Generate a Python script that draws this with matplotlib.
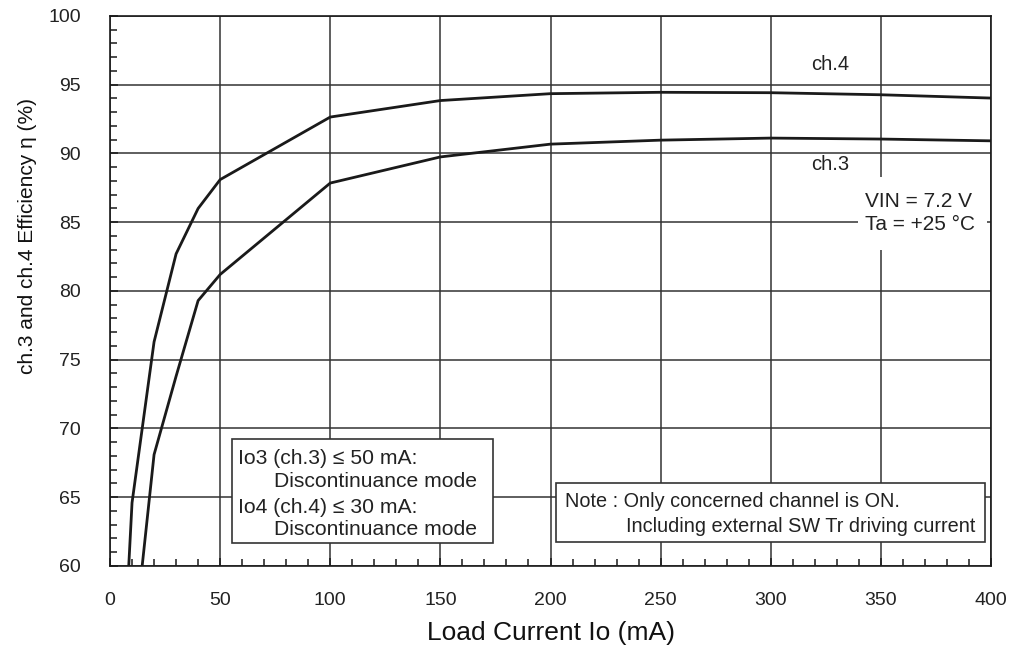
import matplotlib
matplotlib.use("Agg")
import matplotlib.pyplot as plt
from matplotlib.patches import Rectangle
from matplotlib.ticker import MultipleLocator

plt.rcParams['font.family'] = ['Liberation Sans', 'DejaVu Sans']

# data
load_ch4 = [8.5, 10, 20, 30, 40, 50, 100, 150, 200, 250, 300, 350, 400]
eff_ch4 = [60.0, 64.6, 76.3, 82.7, 86.0, 88.1, 92.65, 93.85, 94.35, 94.45, 94.42, 94.27, 94.03]
load_ch3 = [14.6, 20, 30, 40, 50, 100, 150, 200, 250, 300, 350, 400]
eff_ch3 = [60.0, 68.1, 73.8, 79.3, 81.2, 87.85, 89.75, 90.68, 90.97, 91.12, 91.05, 90.92]

x_ticks = [0, 50, 100, 150, 200, 250, 300, 350, 400]
y_ticks = [60, 65, 70, 75, 80, 85, 90, 95, 100]

ink = '#1a1a1a'
txt = '#222222'

fig = plt.figure(figsize=(10.13, 6.47), dpi=100)
ax = fig.add_axes([0.1086, 0.1252, 0.8697, 0.8501])

ax.plot(load_ch4, eff_ch4, color=ink, lw=2.0, zorder=4)
ax.plot(load_ch3, eff_ch3, color=ink, lw=2.0, zorder=4)

ax.set_xlim(0, 400)
ax.set_ylim(60, 100)
ax.set_xticks(x_ticks)
ax.set_yticks(y_ticks)
ax.xaxis.set_minor_locator(MultipleLocator(10))
ax.yaxis.set_minor_locator(MultipleLocator(1))
ax.grid(True, which='major', color='#333333', lw=1.1, zorder=1)
ax.tick_params(which='both', direction='in', color=ink, width=1.1, labelsize=14, labelcolor=txt)
ax.tick_params(which='major', length=6)
ax.tick_params(which='minor', length=5)
ax.tick_params(axis='x', pad=19)
ax.tick_params(axis='y', pad=21)
for s in ax.spines.values():
    s.set_color(ink)
    s.set_linewidth(1.2)

ax.set_xlabel('Load Current Io (mA)', fontsize=19, color='#111111')
ax.set_ylabel('ch.3 and ch.4 Efficiency η (%)', fontsize=15, color='#111111')
ax.xaxis.set_label_coords(0.5, -0.1)
ax.yaxis.set_label_coords(-0.083, 0.6)

# curve labels
ax.text(327, 96.5, 'ch.4', fontsize=14.5, color=txt, ha='center', va='center')
ax.text(327, 89.2, 'ch.3', fontsize=14.5, color=txt, ha='center', va='center')

# condition text with white background
ax.add_patch(Rectangle((0.849, 0.5745), 0.1465, 0.1325, transform=ax.transAxes,
                       facecolor='white', edgecolor='none', zorder=3))
ax.text(0.857, 0.642, 'VIN = 7.2 V\nTa = +25 °C', transform=ax.transAxes,
        fontsize=15, color=txt, ha='left', va='center', linespacing=1.25, zorder=5)

# mode box
ax.add_patch(Rectangle((0.1385, 0.0418), 0.2962, 0.1891, transform=ax.transAxes,
                       facecolor='white', edgecolor='#333333', lw=1.2, zorder=3))
ax.text(0.145, 0.196, 'Io3 (ch.3) ≤ 50 mA:', transform=ax.transAxes,
        fontsize=15.2, color=txt, ha='left', va='center', zorder=5)
ax.text(0.1864, 0.1533, 'Discontinuance mode', transform=ax.transAxes,
        fontsize=15.2, color=txt, ha='left', va='center', zorder=5)
ax.text(0.145, 0.1055, 'Io4 (ch.4) ≤ 30 mA:', transform=ax.transAxes,
        fontsize=15.2, color=txt, ha='left', va='center', zorder=5)
ax.text(0.1864, 0.0655, 'Discontinuance mode', transform=ax.transAxes,
        fontsize=15.2, color=txt, ha='left', va='center', zorder=5)

# note box
ax.add_patch(Rectangle((0.506, 0.0436), 0.487, 0.1075, transform=ax.transAxes,
                       facecolor='white', edgecolor='#333333', lw=1.2, zorder=3))
ax.text(0.5165, 0.117, 'Note : Only concerned channel is ON.', transform=ax.transAxes,
        fontsize=14.3, color=txt, ha='left', va='center', zorder=5)
ax.text(0.5857, 0.0715, 'Including external SW Tr driving current', transform=ax.transAxes,
        fontsize=14.3, color=txt, ha='left', va='center', zorder=5)

fig.savefig('out.png', dpi=100)
